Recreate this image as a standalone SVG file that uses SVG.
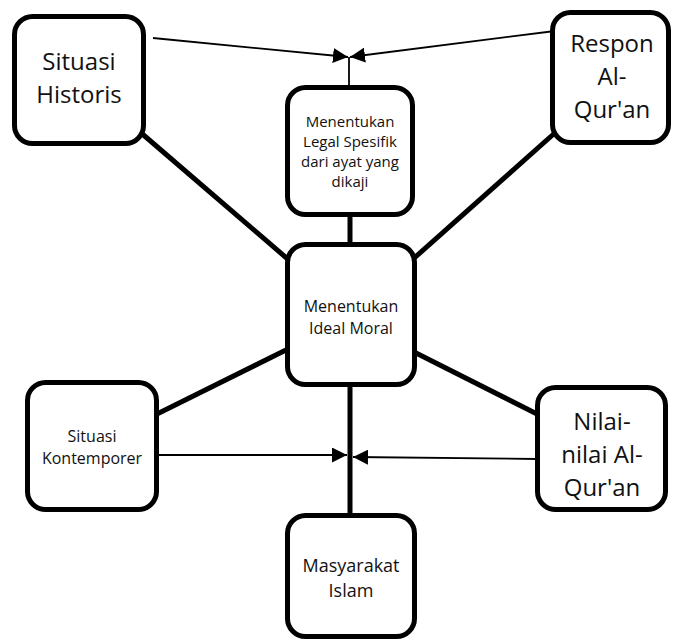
<svg xmlns="http://www.w3.org/2000/svg" width="674" height="643" viewBox="0 0 674 643">
  <defs>
    <style>
      .box { fill: #ffffff; stroke: #000000; stroke-width: 5; }
      .thick { stroke: #000000; stroke-width: 5; fill: none; }
      .thin { stroke: #000000; stroke-width: 1.8; fill: none; }
      .arr { stroke: #000000; stroke-width: 1.8; fill: none; marker-end: url(#ah); }
      text { font-family: "Open Sans", "Noto Sans", sans-serif; fill: #111111; text-anchor: middle; }
      .big { font-size: 24px; }
      .mid { font-size: 16px; }
      .sm { font-size: 15px; }
      .ms { font-size: 18px; }
    </style>
    <marker id="ah" markerUnits="userSpaceOnUse" markerWidth="15" markerHeight="15" refX="15" refY="7.5" orient="auto" viewBox="0 0 15 15">
      <path d="M0,0 L15,7.5 L0,15 z" fill="#000000"/>
    </marker>
  </defs>
  <rect width="674" height="643" fill="#ffffff"/>

  <g id="connectors">
    <line class="thick" x1="140" y1="132" x2="290" y2="261"/>
    <line class="thick" x1="557" y1="131" x2="412" y2="260"/>
    <line class="thick" x1="350" y1="214" x2="350" y2="246"/>
    <line class="thick" x1="288" y1="349" x2="155" y2="415"/>
    <line class="thick" x1="414" y1="352" x2="539" y2="415"/>
    <line class="thick" x1="350" y1="386" x2="350" y2="517"/>
    <line class="arr" x1="153" y1="38" x2="348" y2="57"/>
    <line class="arr" x1="555" y1="31" x2="350" y2="57"/>
    <line class="thin" x1="349" y1="57" x2="349" y2="88"/>
    <line class="arr" x1="158" y1="455" x2="347" y2="455"/>
    <line class="arr" x1="537" y1="459" x2="353" y2="457"/>
  </g>

  <g id="situasi-historis">
    <rect class="box" x="14.5" y="16.5" width="129" height="127" rx="18"/>
    <text class="big" x="79" y="70">Situasi</text>
    <text class="big" x="79" y="103">Historis</text>
  </g>

  <g id="respon-alquran">
    <rect class="box" x="552.5" y="12.5" width="116" height="130" rx="18"/>
    <text class="big" x="612" y="52">Respon</text>
    <text class="big" x="612" y="85">Al-</text>
    <text class="big" x="612" y="118">Qur'an</text>
  </g>

  <g id="legal-spesifik">
    <rect class="box" x="287.5" y="87.5" width="125" height="127" rx="18"/>
    <text class="sm" x="350" y="127">Menentukan</text>
    <text class="sm" x="350" y="147">Legal Spesifik</text>
    <text class="sm" x="350" y="167">dari ayat yang</text>
    <text class="sm" x="350" y="187">dikaji</text>
  </g>

  <g id="ideal-moral">
    <rect class="box" x="287.5" y="244.5" width="127" height="140" rx="18"/>
    <text class="mid" x="351" y="312">Menentukan</text>
    <text class="mid" x="351" y="334">Ideal Moral</text>
  </g>

  <g id="situasi-kontemporer">
    <rect class="box" x="27.5" y="382.5" width="129" height="127" rx="18"/>
    <text class="mid" x="92" y="442">Situasi</text>
    <text class="mid" x="92" y="464">Kontemporer</text>
  </g>

  <g id="nilai-alquran">
    <rect class="box" x="537.5" y="387.5" width="128" height="122" rx="18"/>
    <text class="big" x="602" y="430">Nilai-</text>
    <text class="big" x="602" y="463">nilai Al-</text>
    <text class="big" x="602" y="496">Qur'an</text>
  </g>

  <g id="masyarakat-islam">
    <rect class="box" x="287.5" y="515.5" width="127" height="121" rx="18"/>
    <text class="ms" x="351" y="572">Masyarakat</text>
    <text class="ms" x="351" y="597">Islam</text>
  </g>
</svg>
